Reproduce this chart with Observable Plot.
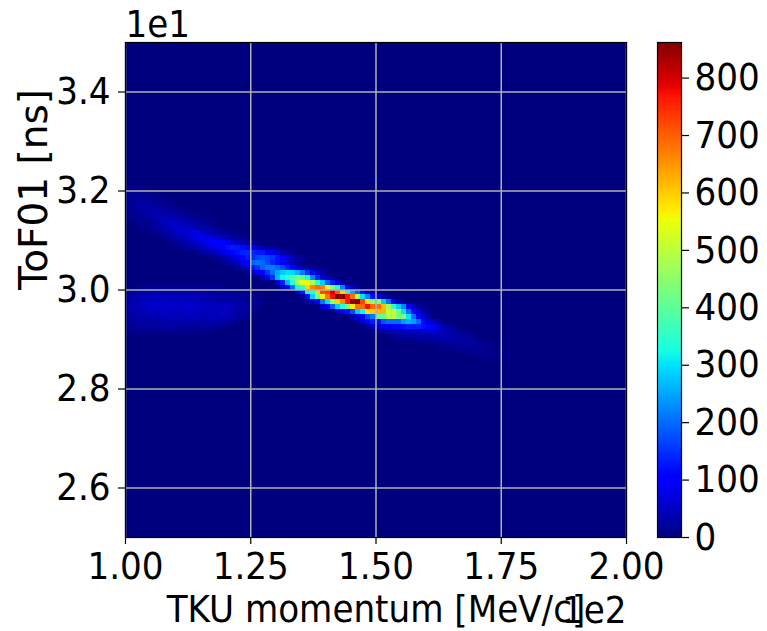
<!DOCTYPE html>
<html><head><meta charset="utf-8">
<script src="https://cdn.jsdelivr.net/npm/d3@7"></script>
<script src="https://cdn.jsdelivr.net/npm/@observablehq/plot@0.6"></script>
<style>
html,body{margin:0;padding:0;background:#fff}
#wrap{position:relative;width:767px;height:631px;overflow:hidden}
#wrap svg{position:absolute;left:0;top:0;background:transparent}
</style></head><body><div id="wrap"></div>
<script>
// Histogram bins: [first ToF bin index above 25 ns (0.1 ns wide), first momentum bin above 100 MeV/c (1 MeV/c wide), counts]
const lowerBlob = [
 [50,2,[10,14,12,14,18,16,14,20,16,14,16,12,14,10,12,14,10,10]],
 [49,0,[14,20,22,28,26,34,30,30,34,28,26,32,30,30,24,26,22,24,18,20,16,18,12,14,10]],
 [48,0,[20,28,30,38,36,44,42,46,40,44,38,46,42,42,36,38,32,32,26,28,24,26,18,20,12,14,10]],
 [47,0,[26,34,36,46,46,54,46,56,50,52,44,50,48,48,42,44,38,40,32,36,34,32,24,24,16,16,12,10]],
 [46,0,[26,36,36,44,48,58,50,56,54,54,48,54,52,58,48,50,44,44,40,48,42,38,28,26,18,16,10]],
 [45,0,[28,28,38,38,46,44,52,48,54,46,50,48,58,50,52,44,48,44,46,46,48,36,32,22,20,12]],
 [44,0,[20,28,28,34,34,40,36,42,40,46,40,46,44,46,40,42,36,44,38,46,38,34,22,20,12]],
 [43,0,[18,22,22,28,24,30,28,34,32,38,30,36,32,34,28,32,30,34,30,32,22,20,12]],
 [42,0,[12,16,14,20,16,22,20,24,22,28,22,24,20,24,20,22,20,22,16,16,10]],
 [41,0,[8,12,8,14,10,16,12,16,12,14,10,14,10,12,8,12,8]]
];
const upperTail = [
 [70,0,[6,8,8,6,5]],
 [69,0,[10,12,12,11,8,6,4]],
 [68,0,[12,16,18,18,14,12,8,5]],
 [67,0,[14,18,20,26,22,20,14,12,8,5]],
 [66,0,[12,16,22,26,32,26,26,18,16,10,8,5]],
 [65,0,[10,12,16,22,28,32,36,30,28,22,18,12,10,6,4]],
 [64,0,[8,10,12,14,20,28,36,40,40,38,32,26,20,16,12,8,5]],
 [63,2,[8,10,14,18,26,36,42,48,44,44,34,30,22,16,12,8,5]],
 [62,3,[8,12,16,24,30,42,50,56,54,54,44,36,28,20,14,10,6]],
 [61,5,[10,14,20,28,38,50,56,64,70,68,56,44,34,24,16,12,6]],
 [60,7,[12,16,24,34,44,54,66,80,84,76,70,60,50,36,26,16,10,6]],
 [59,9,[12,18,28,36,48,60,72,82,94,98,92,84,68,52,38,26,18,12]],
 [58,11,[12,20,28,38,50,60,76,88,102,118,130,124,114,100,78,56,38,26,16,8]],
 [57,14,[12,20,26,40,50,66,84,102,120,132,138,140,128,130,108,84,58,38,24,12]],
 [56,17,[12,20,30,44,62,82,104,128,145,165,172,165,150,125,100,70,46,28,14]],
 [55,19,[12,20,34,52,78,105,190,205,195,170,140,120,100,70,40,22,12]],
 [54,22,[20,35,65,125,150,190,215,215,200,170,130,100,70,40,22,12]]
];
const core = [
 [53,24,[20,50,80,110,150,200,250,280,300,290,260,210,150,100,60,30,14]],
 [52,27,[40,80,150,260,320,340,390,420,400,320,220,140,70,30,14]],
 [51,30,[70,130,260,340,480,540,560,480,340,280,190,130,70,30,14]],
 [50,31,[50,110,200,320,350,590,660,690,670,560,430,340,220,110,50,20]],
 [49,34,[60,130,320,350,590,720,730,790,700,590,320,250,190,120,60,25,12]],
 [48,35,[30,120,290,420,560,680,770,860,860,770,680,500,300,220,120,70,35,14]],
 [47,36,[20,50,100,210,300,470,590,660,760,850,860,720,580,430,430,280,200,100,40,20]],
 [46,39,[60,100,190,280,340,420,570,680,690,770,690,680,610,470,350,280,220,100,50,25,12]],
 [45,42,[60,100,120,170,280,320,570,600,620,620,500,500,420,300,200,110,70,30,14]],
 [44,45,[40,70,110,170,210,400,400,490,490,430,430,300,200,110,60,30]],
 [43,46,[30,60,90,130,120,180,200,200,200,240,260,240,200,110,60,40,25]],
 [42,48,[30,50,70,90,100,100,110,120,130,130,130,120,110,90,60,40,25,14]],
 [41,50,[16,24,32,36,40,44,48,52,54,60,60,62,56,48,38,28,20,12]],
 [40,53,[12,16,20,24,26,28,30,32,34,38,38,32,30,26,20,14,10]],
 [39,58,[10,12,14,18,20,22,24,26,26,24,22,20,16,12,8]],
 [38,62,[10,12,14,16,18,20,20,18,16,14,10,6]],
 [37,66,[8,10,12,12,12,12,12,10,8,6]],
 [36,70,[6,8,8,8,8,6,5]]
];
const xTicks = [100,125,150,175,200];
const yTicks = [26,28,30,32,34];
const cbTicks = [0,100,200,300,400,500,600,700,800];
const maxCount = 862;
const jetStops = [0,.11,.125,.34,.35,.375,.64,.65,.66,.89,.91,1];
const jetColors = ["rgb(0,0,127)","rgb(0,0,255)","rgb(0,0,255)","rgb(0,219,255)","rgb(0,230,247)","rgb(21,255,226)","rgb(239,255,8)","rgb(247,245,0)","rgb(255,236,0)","rgb(255,19,0)","rgb(232,0,0)","rgb(127,0,0)"];

const cells = [...lowerBlob, ...upperTail, ...core].flatMap(([j, start, vals]) =>
  vals.map((v, k) => ({x1: 100 + start + k, x2: 101 + start + k, y1: 25 + j / 10, y2: 25 + (j + 1) / 10, v})));
const color = {type: "linear", domain: jetStops.map(s => s * maxCount), range: jetColors, interpolate: "rgb"};
const font = "'DejaVu Sans Condensed','DejaVu Sans'";
const fs = 38;

const main = Plot.plot({
  width: 767, height: 631,
  marginLeft: 125, marginRight: 141, marginTop: 42, marginBottom: 94,
  style: {fontFamily: font, background: "transparent", color: "#000"},
  x: {domain: [100, 200]}, y: {domain: [25, 35]}, color,
  marks: [
    Plot.frame({fill: jetColors[0]}),
    Plot.rect(cells, {x1: "x1", x2: "x2", y1: "y1", y2: "y2", fill: "v", shapeRendering: "crispEdges"}),
    Plot.gridX(xTicks, {stroke: "#b0b0b0", strokeOpacity: 1, strokeWidth: 1.5}),
    Plot.gridY(yTicks, {stroke: "#b0b0b0", strokeOpacity: 1, strokeWidth: 1.5}),
    Plot.frame({stroke: "#000", strokeWidth: 1.2}),
    Plot.axisX({ticks: xTicks, tickFormat: d => (d / 100).toFixed(2), fontSize: fs, tickSize: 7, tickPadding: 8, strokeWidth: 1.2, label: null}),
    Plot.axisY({ticks: yTicks, tickFormat: d => (d / 10).toFixed(1), fontSize: fs, tickSize: 7, tickPadding: 8, strokeWidth: 1.2, label: null}),
    Plot.text(["TKU momentum [MeV/c]"], {frameAnchor: "bottom", lineAnchor: "bottom", dy: 84, fontSize: fs}),
    Plot.text(["ToF01 [ns]"], {frameAnchor: "left", rotate: -90, lineAnchor: "bottom", dx: -79, fontSize: 39, fontFamily: "DejaVu Sans"}),
    Plot.text(["1e1"], {frameAnchor: "top-left", dy: -6, fontSize: fs, textAnchor: "start", lineAnchor: "bottom"}),
    Plot.text(["1e2"], {frameAnchor: "bottom-right", dy: 85, fontSize: fs, textAnchor: "end", lineAnchor: "bottom"})
  ]
});

const levels = d3.range(0, maxCount, 2);
const bar = Plot.plot({
  width: 767, height: 631,
  marginLeft: 657, marginRight: 86, marginTop: 42, marginBottom: 94,
  style: {fontFamily: font, background: "transparent", color: "#000"},
  x: {axis: null, domain: [0, 1]}, y: {domain: [0, maxCount]}, color,
  marks: [
    Plot.rect(levels, {x1: 0, x2: 1, y1: d => d, y2: d => d + 2, fill: d => d, shapeRendering: "crispEdges"}),
    Plot.frame({stroke: "#000", strokeWidth: 1.2}),
    Plot.axisY({anchor: "right", ticks: cbTicks, fontSize: fs, tickSize: 7, tickPadding: 6, strokeWidth: 1.2, label: null, tickFormat: d => String(d)})
  ]
});
document.getElementById("wrap").append(main, bar);
</script></body></html>
